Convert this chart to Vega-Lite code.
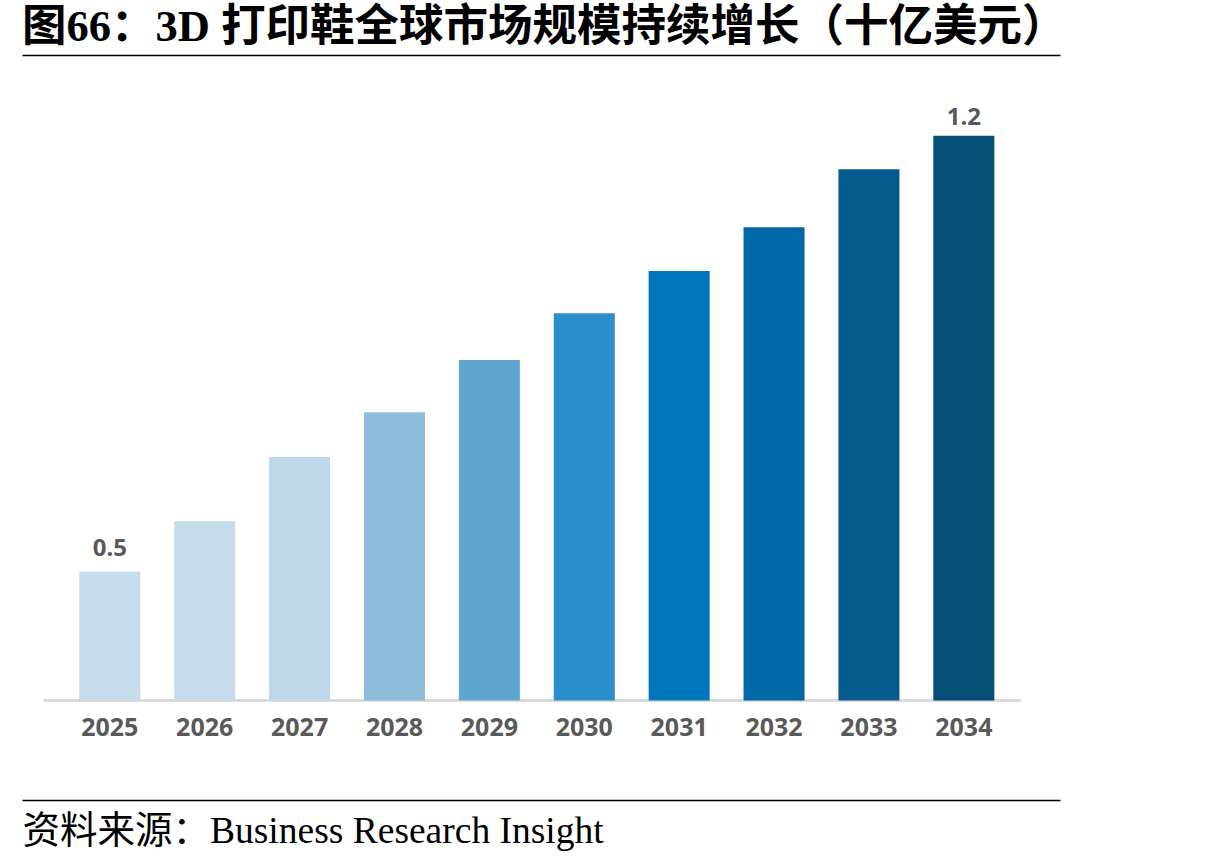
{
  "$schema": "https://vega.github.io/schema/vega-lite/v6.json",
  "width": 1038,
  "height": 745,
  "autosize": {"type": "none"},
  "padding": {"left": 22, "top": 55, "right": 155, "bottom": 61},
  "background": "#ffffff",
  "view": {"stroke": null},
  "title": {
    "text": "图66：3D 打印鞋全球市场规模持续增长（十亿美元）",
    "anchor": "start",
    "frame": "group",
    "font": "Liberation Serif, Noto Sans CJK SC",
    "fontSize": 44.5,
    "fontWeight": "bold",
    "color": "#000000",
    "baseline": "alphabetic",
    "offset": 12,
    "dy": 42
  },
  "data": {
    "values": [
      {"year": "2025", "value": 0.5},
      {"year": "2026", "value": 0.581},
      {"year": "2027", "value": 0.684},
      {"year": "2028", "value": 0.756},
      {"year": "2029", "value": 0.84},
      {"year": "2030", "value": 0.915},
      {"year": "2031", "value": 0.983},
      {"year": "2032", "value": 1.053},
      {"year": "2033", "value": 1.146},
      {"year": "2034", "value": 1.2}
    ]
  },
  "encoding": {
    "x": {
      "field": "year",
      "type": "ordinal",
      "sort": null,
      "scale": {
        "domain": ["2025", "2026", "2027", "2028", "2029", "2030", "2031", "2032", "2033", "2034"],
        "paddingInner": 0.357,
        "paddingOuter": 0.648,
        "align": 0.466
      },
      "axis": {
        "orient": "bottom",
        "domain": false,
        "ticks": false,
        "tickSize": 0,
        "grid": false,
        "labelAngle": 0,
        "labelPadding": -65,
        "labelBaseline": "alphabetic",
        "labelFont": "Noto Sans",
        "labelFontSize": 25,
        "labelFontWeight": "bold",
        "labelColor": "#595959",
        "title": "资料来源：Business Research Insight",
        "titleFont": "Liberation Serif, Noto Sans CJK SC",
        "titleFontSize": 37.5,
        "titleFontWeight": "normal",
        "titleColor": "#000000",
        "titleAnchor": "start",
        "titleAlign": "left",
        "titleBaseline": "alphabetic",
        "titleX": 0,
        "titleY": 42
      }
    }
  },
  "layer": [
    {
      "mark": {"type": "rule", "color": "#d9d9d9", "strokeWidth": 1.5, "xOffset": -66, "x2Offset": 57},
      "encoding": {
        "x": {"datum": "2025"},
        "x2": {"datum": "2034"},
        "y": {"datum": 0.2932, "type": "quantitative"}
      }
    },
    {
      "mark": {"type": "bar"},
      "encoding": {
        "y": {
          "field": "value",
          "type": "quantitative",
          "scale": {"domain": [0.1335, 1.3296], "zero": false, "nice": false},
          "axis": {
            "values": [0.1335, 1.3296],
            "grid": true,
            "gridColor": "#000000",
            "gridWidth": 1.5,
            "domain": false,
            "ticks": false,
            "labels": false,
            "title": null
          }
        },
        "y2": {"datum": 0.2932},
        "color": {
          "field": "year",
          "type": "ordinal",
          "sort": null,
          "scale": {
            "domain": ["2025", "2026", "2027", "2028", "2029", "2030", "2031", "2032", "2033", "2034"],
            "range": ["#c5dcea", "#c6dcea", "#bcd8ea", "#8dbcda", "#5ea6d0", "#2a8fca", "#0077bc", "#0068a6", "#065a8e", "#044f74"]
          },
          "legend": null
        }
      }
    },
    {
      "transform": [{"filter": "datum.year === '2025'"}],
      "mark": {
        "type": "text",
        "font": "Noto Sans",
        "fontSize": 24,
        "fontWeight": "bold",
        "color": "#595959",
        "baseline": "alphabetic",
        "align": "center",
        "dy": -16
      },
      "encoding": {
        "y": {"field": "value", "type": "quantitative"},
        "text": {"field": "value", "type": "quantitative", "format": ".1f"}
      }
    },
    {
      "transform": [{"filter": "datum.year === '2034'"}],
      "mark": {
        "type": "text",
        "font": "Noto Sans",
        "fontSize": 24,
        "fontWeight": "bold",
        "color": "#595959",
        "baseline": "alphabetic",
        "align": "center",
        "dy": -11
      },
      "encoding": {
        "y": {"field": "value", "type": "quantitative"},
        "text": {"field": "value", "type": "quantitative", "format": ".1f"}
      }
    }
  ]
}
